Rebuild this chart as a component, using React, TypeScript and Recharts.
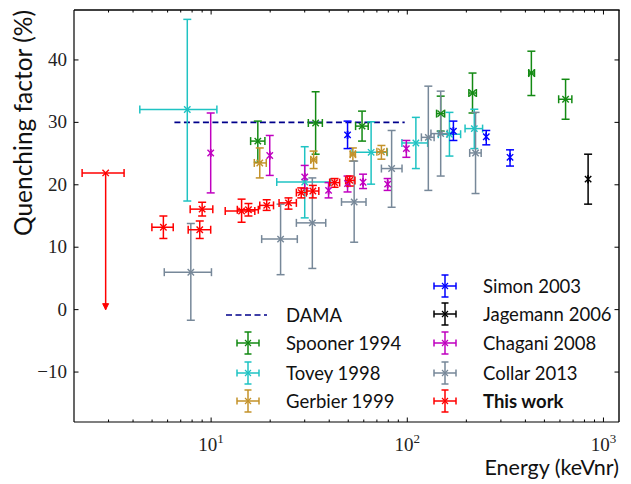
import { ScatterChart, Scatter, XAxis, YAxis, ErrorBar, ReferenceLine } from 'recharts'

// each row: energy, energy low, energy high, quenching, quenching low, quenching high
type Row = [number, number, number, number, number, number]

const spooner: Row[] = [
  [17.3, 15.9, 18.8, 27.0, 23.6, 30.2],
  [34.1, 31.3, 36.9, 29.9, 24.9, 34.9],
  [58.8, 54.5, 63.2, 29.4, 27.0, 31.8],
  [148, 141, 155, 31.4, 28.6, 34.2],
  [215, 206, 225, 34.7, 31.5, 37.9],
  [429, 416, 445, 37.9, 34.3, 41.4],
  [641, 591, 690, 33.7, 30.5, 36.9],
]

const tovey: Row[] = [
  [7.56, 4.33, 10.7, 32.05, 17.4, 46.5],
  [30.0, 21.6, 40.6, 20.45, 14.7, 26.1],
  [65.4, 52.3, 79.1, 25.2, 20.1, 30.1],
  [110.6, 93.9, 127, 26.7, 22.6, 30.8],
  [164, 144, 187, 28.1, 24.6, 31.6],
  [219.6, 197, 242, 29.0, 25.8, 32.1],
]

const gerbier: Row[] = [
  [17.7, 16.6, 19.1, 23.5, 21.1, 25.9],
  [33.3, 32.2, 34.5, 24.0, 22.6, 25.4],
  [52.8, 51.2, 54.4, 24.9, 23.8, 25.9],
  [73.8, 70.0, 78.6, 25.3, 24.1, 26.3],
]

const simon: Row[] = [
  [49.6, 49.6, 49.6, 28.0, 25.8, 30.2],
  [171.8, 171.8, 171.8, 28.6, 27.1, 30.2],
  [252.7, 252.7, 252.7, 27.7, 26.4, 28.7],
  [334, 334, 334, 24.4, 23.0, 25.6],
]

const jagemann: Row[] = [
  [835, 835, 835, 20.9, 16.9, 24.9],
]

const chagani: Row[] = [
  [9.95, 9.95, 9.95, 25.1, 18.7, 31.5],
  [19.9, 19.9, 19.9, 24.7, 21.5, 27.9],
  [30.0, 30.0, 30.0, 21.25, 19.4, 23.1],
  [39.7, 39.7, 39.7, 19.1, 17.9, 20.35],
  [49.6, 49.6, 49.6, 20.2, 18.85, 21.4],
  [59.5, 59.5, 59.5, 20.4, 19.4, 21.7],
  [79.4, 79.4, 79.4, 20.1, 19.1, 21.0],
  [98.9, 98.9, 98.9, 25.8, 24.4, 27.1],
]

const collar: Row[] = [
  [7.88, 5.77, 10.04, 6.0, -1.7, 13.8],
  [22.6, 18.1, 27.5, 11.3, 5.6, 16.9],
  [32.8, 27.2, 38.4, 13.9, 6.6, 21.1],
  [53.6, 46.2, 61.6, 17.25, 10.8, 23.8],
  [83.2, 73.8, 94.0, 22.6, 16.4, 28.7],
  [128, 118, 137, 27.6, 19.1, 35.8],
  [148, 132, 160, 28.2, 21.4, 35.0],
  [222.8, 208, 238, 25.1, 18.6, 31.6],
]

const thisWork: Row[] = [
  [5.71, 4.99, 6.41, 13.2, 11.4, 15.0],
  [8.75, 7.64, 9.95, 12.8, 11.4, 14.2],
  [9.0, 7.82, 10.2, 16.1, 15.0, 17.2],
  [14.3, 11.8, 16.7, 15.8, 14.0, 17.7],
  [15.5, 13.6, 17.4, 16.0, 15.0, 17.0],
  [19.2, 17.7, 20.8, 16.7, 15.9, 17.6],
  [24.8, 22.2, 27.2, 17.1, 16.1, 17.9],
  [28.8, 27.2, 30.6, 18.75, 17.9, 19.5],
  [33.0, 30.8, 35.4, 19.0, 17.9, 19.9],
  [42.6, 40.2, 45.2, 20.35, 19.6, 21.0],
  [50.9, 48.5, 54.1, 20.7, 19.8, 21.4],
]

// upper limit point, arrow down to zero
const thisWorkLimit: Row[] = [[2.9, 2.2, 3.6, 21.9, 0, 21.9]]

const damaRange = [6.5, 97]
const damaValue = 30

const xDomain = [2, 1200]
const yDomain = [-18, 48]
const xTicks = [3, 4, 5, 6, 7, 8, 9, 10, 20, 30, 40, 50, 60, 70, 80, 90, 100, 200, 300, 400, 500, 600, 700, 800, 900, 1000]
const yTicks = [-10, 0, 10, 20, 30, 40]

const SERIF = '"Liberation Serif", "Times New Roman", serif'
const SANS = 'Lato, "Open Sans", sans-serif'

const toPoints = (rows: Row[]) =>
  rows.map(([x, xl, xh, y, yl, yh]) => ({ x, y, ex: [x - xl, xh - x], ey: [y - yl, yh - y] }))

const SERIES = [
  { name: 'Spooner 1994', rows: spooner, color: '#138a13' },
  { name: 'Tovey 1998', rows: tovey, color: '#1fc3c3' },
  { name: 'Gerbier 1999', rows: gerbier, color: '#c4922a' },
  { name: 'Simon 2003', rows: simon, color: '#0000ff' },
  { name: 'Jagemann 2006', rows: jagemann, color: '#000000' },
  { name: 'Chagani 2008', rows: chagani, color: '#c000c0' },
  { name: 'Collar 2013', rows: collar, color: '#778899' },
  { name: 'This work', rows: thisWork, color: '#ff0000' },
]

// page fills the window exactly
if (typeof document !== 'undefined') document.body.style.margin = '0'

const W = 631
const H = 484
const M = { top: 10, right: 12, bottom: 0, left: 0 }
const Y_AXIS_W = 74
const X_AXIS_H = 62
const PLOT_W = W - M.left - M.right - Y_AXIS_W
const PLOT_H = H - M.top - M.bottom - X_AXIS_H

const xMarker = (color: string) => (p: any) => {
  const { cx, cy } = p
  const s = 3.2
  return (
    <path
      d={`M${cx - s},${cy - s}L${cx + s},${cy + s}M${cx - s},${cy + s}L${cx + s},${cy - s}`}
      stroke={color}
      strokeWidth={1.4}
      fill="none"
    />
  )
}

const arrowHead = (p: any) => {
  const { cx, cy } = p
  return <path d={`M${cx - 3},${cy - 6}L${cx + 3},${cy - 6}L${cx},${cy}Z`} fill="#ff0000" stroke="#ff0000" strokeWidth={1} />
}

const isMajor = (v: number) => Math.abs(Math.log10(v) - Math.round(Math.log10(v))) < 1e-9

// bottom tick also draws its mirror on the top edge
const BottomTick = (p: any) => {
  const { x, y, payload } = p
  const v = payload.value
  const major = isMajor(v)
  const len = major ? 4.5 : 2.5
  const top = y - PLOT_H
  return (
    <g>
      <line x1={x} x2={x} y1={y} y2={y - len} stroke="#000" strokeWidth={1} />
      <line x1={x} x2={x} y1={top} y2={top + len} stroke="#000" strokeWidth={1} />
      {major && (
        <text x={x} y={y + 29} textAnchor="middle" fontFamily={SERIF} fontSize={19} fill="#222">
          10<tspan dy={-8} fontSize={13}>{Math.round(Math.log10(v))}</tspan>
        </text>
      )}
    </g>
  )
}

// left tick also draws its mirror on the right edge
const LeftTick = (p: any) => {
  const { x, y, payload } = p
  const v = payload.value
  const right = x + PLOT_W
  return (
    <g>
      <line x1={x} x2={x + 4.5} y1={y} y2={y} stroke="#000" strokeWidth={1} />
      <line x1={right} x2={right - 4.5} y1={y} y2={y} stroke="#000" strokeWidth={1} />
      <text x={x - 7} y={y} dy={6} textAnchor="end" fontFamily={SERIF} fontSize={19} fill="#222">
        {v < 0 ? `\u2212${-v}` : v}
      </text>
    </g>
  )
}

const ErrIcon = ({ cx, cy, color }: { cx: number; cy: number; color: string }) => (
  <g stroke={color} strokeWidth={1.5} fill="none">
    <path d={`M${cx - 11},${cy}L${cx + 11},${cy}M${cx - 11},${cy - 3.5}L${cx - 11},${cy + 3.5}M${cx + 11},${cy - 3.5}L${cx + 11},${cy + 3.5}`} />
    <path d={`M${cx},${cy - 11}L${cx},${cy + 11}M${cx - 3.5},${cy - 11}L${cx + 3.5},${cy - 11}M${cx - 3.5},${cy + 11}L${cx + 3.5},${cy + 11}`} />
    <path d={`M${cx - 3},${cy - 3}L${cx + 3},${cy + 3}M${cx - 3},${cy + 3}L${cx + 3},${cy - 3}`} strokeWidth={1.2} />
  </g>
)

const LEGEND_LEFT = [
  { name: 'Spooner 1994', y: 343 },
  { name: 'Tovey 1998', y: 373 },
  { name: 'Gerbier 1999', y: 401 },
]
const LEGEND_RIGHT = [
  { name: 'Simon 2003', y: 286 },
  { name: 'Jagemann 2006', y: 314 },
  { name: 'Chagani 2008', y: 343 },
  { name: 'Collar 2013', y: 373 },
  { name: 'This work', y: 401 },
]

const colorOf = (name: string) => SERIES.find((s) => s.name === name)!.color

const LEG_FONT = 18.5

export default function App() {
  const plotLeft = M.left + Y_AXIS_W
  const plotRight = plotLeft + PLOT_W
  const plotTop = M.top
  const plotBottom = plotTop + PLOT_H
  return (
    <div style={{ position: 'relative', width: W, height: H }}>
      <ScatterChart width={W} height={H} margin={M}>
        <XAxis
          dataKey="x"
          type="number"
          scale="log"
          domain={xDomain}
          allowDataOverflow
          ticks={xTicks}
          interval={0}
          tick={<BottomTick />}
          tickLine={false}
          tickSize={0}
          tickMargin={0}
          height={X_AXIS_H}
          axisLine={{ stroke: '#000', strokeWidth: 1.2 }}
        />
        <YAxis
          dataKey="y"
          type="number"
          domain={yDomain}
          allowDataOverflow
          ticks={yTicks}
          interval={0}
          tick={<LeftTick />}
          tickLine={false}
          tickSize={0}
          tickMargin={0}
          width={Y_AXIS_W}
          axisLine={{ stroke: '#000', strokeWidth: 1.2 }}
        />
        <ReferenceLine
          segment={[
            { x: damaRange[0], y: damaValue },
            { x: damaRange[1], y: damaValue },
          ]}
          stroke="#00008b"
          strokeWidth={1.7}
          strokeDasharray="6 3.5"
        />
        {SERIES.map((s) => (
          <Scatter key={s.name} name={s.name} data={toPoints(s.rows)} shape={xMarker(s.color)} isAnimationActive={false}>
            <ErrorBar dataKey="ex" direction="x" width={4} stroke={s.color} strokeWidth={1.5} isAnimationActive={false} />
            <ErrorBar dataKey="ey" direction="y" width={4} stroke={s.color} strokeWidth={1.5} isAnimationActive={false} />
          </Scatter>
        ))}
        <Scatter data={toPoints(thisWorkLimit)} shape={xMarker('#ff0000')} isAnimationActive={false}>
          <ErrorBar dataKey="ex" direction="x" width={4} stroke="#ff0000" strokeWidth={1.5} isAnimationActive={false} />
          <ErrorBar dataKey="ey" direction="y" width={0} stroke="#ff0000" strokeWidth={1.5} isAnimationActive={false} />
        </Scatter>
        <Scatter data={thisWorkLimit.map((r) => ({ x: r[0], y: r[4] }))} shape={arrowHead} isAnimationActive={false} />
      </ScatterChart>
      <svg width={W} height={H} style={{ position: 'absolute', left: 0, top: 0, pointerEvents: 'none' }}>
        <line x1={plotLeft} x2={plotRight + 0.6} y1={plotTop} y2={plotTop} stroke="#000" strokeWidth={1.4} />
        <line x1={plotRight} x2={plotRight} y1={plotTop} y2={plotBottom} stroke="#000" strokeWidth={1.4} />
        <text transform="translate(24,10) rotate(-90)" textAnchor="end" dy={8} fontFamily={SANS} fontSize={24.5} fill="#111">
          Quenching factor (%)
        </text>
        <text x={619} y={475} textAnchor="end" fontFamily={SANS} fontSize={21.5} fill="#111">
          Energy (keVnr)
        </text>
        <line x1={226} x2={267} y1={315} y2={315} stroke="#00008b" strokeWidth={1.7} strokeDasharray="6 3.5" />
        <text x={286} y={315} dy={6.5} fontFamily={SANS} fontSize={LEG_FONT} fill="#111">
          DAMA
        </text>
        {LEGEND_LEFT.map((l) => (
          <g key={l.name}>
            <ErrIcon cx={248} cy={l.y} color={colorOf(l.name)} />
            <text x={286} y={l.y} dy={6.5} fontFamily={SANS} fontSize={LEG_FONT} fill="#111">
              {l.name}
            </text>
          </g>
        ))}
        {LEGEND_RIGHT.map((l) => (
          <g key={l.name}>
            <ErrIcon cx={445} cy={l.y} color={colorOf(l.name)} />
            <text
              x={483}
              y={l.y}
              dy={6.5}
              fontFamily={SANS}
              fontSize={LEG_FONT}
              fontWeight={l.name === 'This work' ? 700 : 400}
              fill="#111"
            >
              {l.name}
            </text>
          </g>
        ))}
      </svg>
    </div>
  )
}
